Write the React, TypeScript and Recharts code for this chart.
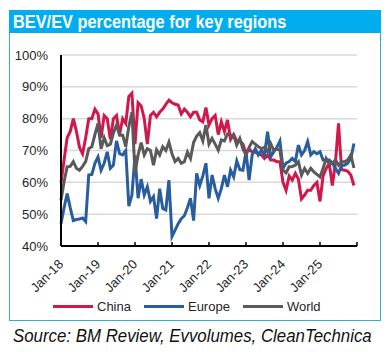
import React from 'react'
import { LineChart, Line, XAxis, YAxis, CartesianGrid } from 'recharts'

// monthly share of BEV in EV sales, Jan-18 .. Dec-25
const china = [
  59.7, 67, 74, 76, 80, 76, 71, 69, 74, 80, 80, 83,
  81.5, 74, 81, 80, 73.5, 80, 81, 75, 80, 78.5, 87, 88,
  72, 85, 84, 80, 72, 81, 82, 80.6, 82, 83, 84.5, 85.8,
  85, 84.5, 84.3, 81.5, 83, 82, 80.6, 82, 82, 79.6, 79, 83.5,
  78, 80, 81, 75, 79, 76, 79.6, 73.5, 75, 73, 73, 72,
  69, 70.5, 69.5, 69.5, 69, 68.6, 67.5, 68.6, 67, 67, 66.5, 66.5,
  60, 57.5, 62, 60.7, 62.8, 61, 54.8, 56, 57.5, 57.5, 59, 60,
  54, 62, 64.4, 65.9, 59, 66, 78.5, 64, 63.8, 63.5, 62.3, 59,
]
const europe = [
  47, 52, 56.5, 52, 48, 48.3, 48.5, 48.8, 47.7, 62.3, 62.5, 66,
  68, 63.8, 66, 69.6, 64.4, 65.4, 73, 69, 68.6, 70, 52.5, 56,
  68.5, 55, 61, 56, 58.6, 54, 55.5, 48.6, 58, 51.8, 51.3, 60.7,
  43, 45, 47, 48.6, 49.5, 52, 55, 48, 62.8, 59, 62, 66,
  55, 62.3, 58, 55, 58, 62.3, 58.6, 63.8, 61.7, 66.7, 64, 63.8,
  69.6, 60.7, 68.6, 70.6, 68.6, 70, 68.6, 75.9, 68, 69.6, 71, 73,
  64.4, 66, 66.5, 67.5, 66.5, 71.7, 68.6, 70, 72.8, 68.6, 69.6, 69,
  69.6, 67, 67, 67, 66, 64.4, 62.8, 65.4, 65.4, 66, 67.5, 72.2,
]
const world = [
  54.4, 60.2, 64.9, 65, 66.5, 64.4, 63.8, 65, 66.5, 70.6, 71.2, 75,
  78.5, 70.5, 74, 71.5, 72, 75.5, 78, 74.8, 74.8, 71.2, 77.5, 82,
  63, 68.6, 72.5, 68.6, 70.6, 70, 65.4, 70.2, 68.6, 71.2, 70, 72.6,
  69, 66.5, 67.5, 66, 66.5, 69.5, 67.5, 72.5, 74.5, 75.6, 73, 78,
  72, 73.8, 72, 70.1, 73.3, 73, 75.2, 74.8, 74.8, 71.7, 73.8, 70.5,
  68.6, 71, 72.8, 72, 71.2, 70.6, 71, 69.6, 72.2, 70, 70.5, 70.1,
  63.8, 63, 64.9, 65, 65.4, 66.5, 62.3, 64.4, 62.8, 64.4, 63.3, 62.5,
  61.7, 64.4, 67.5, 65.9, 66, 67, 65.4, 66.5, 66.5, 67, 68.6, 64.5,
]
const xLabels = ['Jan-18', 'Jan-19', 'Jan-20', 'Jan-21', 'Jan-22', 'Jan-23', 'Jan-24', 'Jan-25', '']
const xTicks = xLabels.map((_, i) => i * 12)
const yTicks = [40, 50, 60, 70, 80, 90, 100]

const series = [
  { key: 'china', name: 'China', color: '#D0184C' },
  { key: 'europe', name: 'Europe', color: '#285E9C' },
  { key: 'world', name: 'World', color: '#5A5A5A' },
]

const data = china.map((c, i) => ({ m: i, china: c, europe: europe[i], world: world[i] }))

const font = '"Liberation Sans", Arial, sans-serif'

function XTick(props: any) {
  const { x, y, payload } = props
  const label = xLabels[Math.round(payload.value / 12)] || ''
  const tx = x + 3
  const ty = y + 19
  return (
    <g>
      <line x1={x} x2={x} y1={y} y2={y - 4} stroke="#000" strokeWidth={1.5} />
      {label && (
        <text x={tx} y={ty} transform={`rotate(-45 ${tx} ${ty})`} textAnchor="end" fontSize={13} fill="#262626">
          {label}
        </text>
      )}
    </g>
  )
}

export default function App() {
  return (
    <div style={{ position: 'absolute', left: 0, top: 0, width: 391, height: 358, fontFamily: font, background: '#fff' }}>
      <div style={{ position: 'absolute', left: 9, top: 10, width: 372, height: 311, border: '1px solid #38A9D8', boxSizing: 'border-box' }} />
      <div style={{ position: 'absolute', left: 9, top: 10, width: 372, height: 23, background: '#00AEEF' }}>
        <div style={{ position: 'absolute', left: 4, top: 1, fontSize: 19, fontWeight: 'bold', color: '#fff', whiteSpace: 'nowrap', transform: 'scaleX(0.86)', transformOrigin: 'left', lineHeight: '22px' }}>
          BEV/EV percentage for key regions
        </div>
      </div>
      <div style={{ position: 'absolute', left: 0, top: 0 }}>
        <LineChart width={391} height={358} data={data} margin={{ top: 55, right: 34, left: 0, bottom: 0 }} style={{ fontFamily: font }}>
          <CartesianGrid vertical={false} stroke="#D9D9D9" strokeWidth={1.5} />
          <XAxis
            dataKey="m"
            type="number"
            domain={[0, 96]}
            ticks={xTicks}
            interval={0}
            height={112}
            tickSize={0}
            tickMargin={0}
            tickLine={false}
            axisLine={{ stroke: '#000', strokeWidth: 2 }}
            tick={<XTick />}
          />
          <YAxis
            type="number"
            domain={[40, 100]}
            ticks={yTicks}
            width={61}
            tickSize={0}
            tickMargin={13}
            tickLine={false}
            axisLine={{ stroke: '#000', strokeWidth: 2 }}
            tick={{ fontSize: 13, fill: '#262626' }}
            tickFormatter={(v) => `${v}%`}
          />
          {series.map((s) => (
            <Line key={s.key} type="linear" dataKey={s.key} name={s.name} stroke={s.color} strokeWidth={3} dot={false} isAnimationActive={false} />
          ))}
        </LineChart>
      </div>
      <div style={{ position: 'absolute', left: 53, top: 299, display: 'flex', alignItems: 'center', fontSize: 13, color: '#262626' }}>
        {series.map((s) => (
          <div key={s.key} style={{ display: 'flex', alignItems: 'center', marginRight: 13 }}>
            <div style={{ width: 40, height: 3, background: s.color, marginRight: 4 }} />
            <span>{s.name}</span>
          </div>
        ))}
      </div>
      <div style={{ position: 'absolute', left: 13, top: 326, fontSize: 18.5, fontStyle: 'italic', color: '#111', whiteSpace: 'nowrap', transform: 'scaleX(0.91)', transformOrigin: 'left', lineHeight: '20px' }}>
        Source: BM Review, Evvolumes, CleanTechnica
      </div>
    </div>
  )
}
